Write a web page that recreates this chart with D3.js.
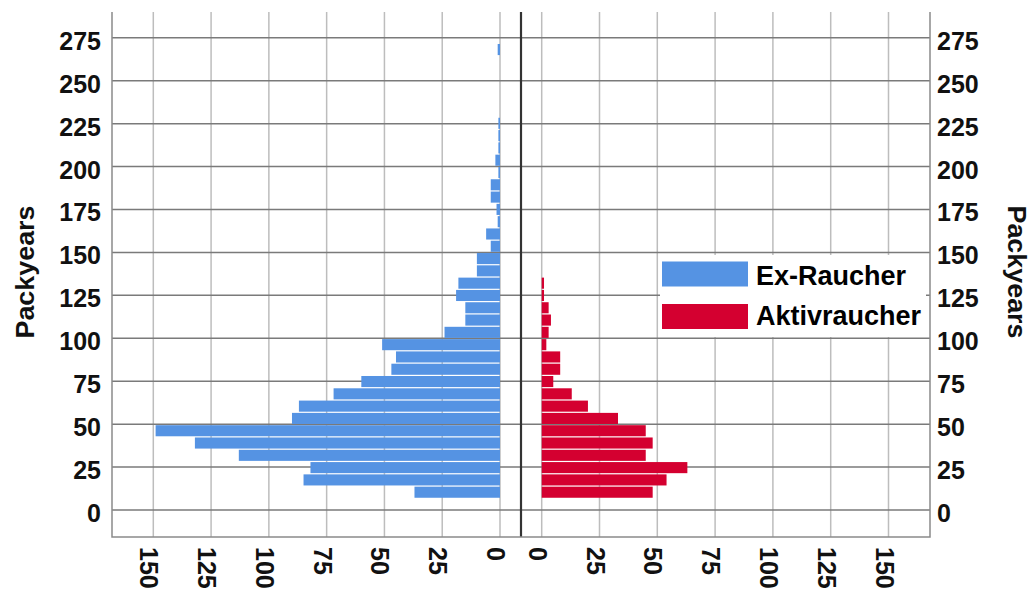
<!DOCTYPE html>
<html>
<head>
<meta charset="utf-8">
<script src="https://cdn.jsdelivr.net/npm/d3@7/dist/d3.min.js"></script>
<style>
  body { margin: 0; background: #fff; }
  text { font-family: "Liberation Sans", Arial, sans-serif; }
</style>
</head>
<body>
<svg id="chart" width="1032" height="591"></svg>
<script>
// counts per packyear bin, lowest bin first
const exRaucher = [37, 85, 82, 113, 132, 149, 90, 87, 72, 60, 47, 45, 51, 24, 15, 15, 19, 18, 10, 10,
                   4, 6, 1, 1.5, 4, 4, 0.7, 2, 0.7, 0.7, 0.7, 0, 0, 0, 0, 0, 1];
const aktivraucher = [48, 54, 63, 45, 48, 45, 33, 20, 13, 5, 8, 8, 2, 3, 4, 3, 1, 1];
const binStart = 6.8;   // lower edge of first bin (packyears)
const binWidth = 7.16;
const yTicks = [0, 25, 50, 75, 100, 125, 150, 175, 200, 225, 250, 275];
const xTicks = [0, 25, 50, 75, 100, 125, 150];
const seriesNames = ['Ex-Raucher', 'Aktivraucher'];
const seriesColors = ['#5593e3', '#d40030'];

const svg = d3.select('#chart');

const plot = {left: 112, right: 930, top: 12, bottom: 537, center: 521};

const y = d3.scaleLinear().domain([-15.7, 290]).range([plot.bottom, plot.top]);
const xL = d3.scaleLinear().domain([0, 150]).range([500, 153.3]);
const xR = d3.scaleLinear().domain([0, 150]).range([541.7, 888.5]);

// vertical grid
const vg = svg.append('g');
[xL, xR].forEach(sc => {
  vg.selectAll(null).data(xTicks).enter().append('line')
    .attr('x1', d => sc(d)).attr('x2', d => sc(d))
    .attr('y1', plot.top).attr('y2', plot.bottom)
    .attr('stroke', '#bdbdbd').attr('stroke-width', 1.5);
});

// horizontal grid
svg.append('g').selectAll('line').data(yTicks).enter().append('line')
  .attr('x1', plot.left).attr('x2', plot.right)
  .attr('y1', d => y(d)).attr('y2', d => y(d))
  .attr('stroke', '#7a7a7a').attr('stroke-width', 1.5);

// bars
const binLo = i => binStart + i * binWidth;
const barH = y(binLo(0)) - y(binLo(1)) - 1.2;

const gBars = svg.append('g');
gBars.selectAll('rect.ex').data(exRaucher).enter().append('rect')
  .attr('class', 'ex')
  .attr('x', d => xL(d)).attr('width', d => xL(0) - xL(d))
  .attr('y', (d, i) => y(binLo(i + 1)) + 0.6).attr('height', barH)
  .attr('fill', seriesColors[0]);
gBars.selectAll('rect.akt').data(aktivraucher).enter().append('rect')
  .attr('class', 'akt')
  .attr('x', xR(0)).attr('width', d => xR(d) - xR(0))
  .attr('y', (d, i) => y(binLo(i + 1)) + 0.6).attr('height', barH)
  .attr('fill', seriesColors[1]);

// center line
svg.append('line')
  .attr('x1', plot.center).attr('x2', plot.center)
  .attr('y1', plot.top).attr('y2', plot.bottom)
  .attr('stroke', '#333').attr('stroke-width', 2.2);

// frame
svg.append('path')
  .attr('d', `M${plot.left},${plot.top}V${plot.bottom}H${plot.right}V${plot.top}`)
  .attr('fill', 'none').attr('stroke', '#8a8a8a').attr('stroke-width', 1.5);

// y tick labels both sides
svg.append('g').selectAll('text').data(yTicks).enter().append('text')
  .attr('x', 101).attr('y', d => y(d) + 3)
  .attr('text-anchor', 'end').attr('dominant-baseline', 'central')
  .attr('font-size', 25).attr('font-weight', 'bold').attr('fill', '#111')
  .text(d => d);
svg.append('g').selectAll('text').data(yTicks).enter().append('text')
  .attr('x', 937).attr('y', d => y(d) + 3)
  .attr('text-anchor', 'start').attr('dominant-baseline', 'central')
  .attr('font-size', 25).attr('font-weight', 'bold').attr('fill', '#111')
  .text(d => d);

// x tick labels, rotated
[xL, xR].forEach(sc => {
  svg.append('g').selectAll('text').data(xTicks).enter().append('text')
    .attr('transform', d => `translate(${sc(d) - 4},547) rotate(90)`)
    .attr('text-anchor', 'start').attr('dominant-baseline', 'central')
    .attr('font-size', 25).attr('font-weight', 'bold').attr('fill', '#111')
    .text(d => d);
});

// axis titles
svg.append('text')
  .attr('transform', 'translate(25,272) rotate(-90)')
  .attr('text-anchor', 'middle').attr('dominant-baseline', 'central')
  .attr('font-size', 25).attr('font-weight', 'bold').attr('fill', '#111')
  .attr('textLength', 133).attr('lengthAdjust', 'spacingAndGlyphs')
  .text('Packyears');
svg.append('text')
  .attr('transform', 'translate(1017,272) rotate(90)')
  .attr('text-anchor', 'middle').attr('dominant-baseline', 'central')
  .attr('font-size', 25).attr('font-weight', 'bold').attr('fill', '#111')
  .attr('textLength', 133).attr('lengthAdjust', 'spacingAndGlyphs')
  .text('Packyears');

// legend
const lg = svg.append('g');
lg.append('rect').attr('x', 660).attr('y', 255).attr('width', 266).attr('height', 82).attr('fill', '#fff');
seriesNames.forEach((name, i) => {
  lg.append('rect')
    .attr('x', 662).attr('y', 261.5 + i * 42.5).attr('width', 86).attr('height', 25)
    .attr('fill', seriesColors[i]);
  lg.append('text')
    .attr('x', 756).attr('y', 285 + i * 40)
    .attr('font-size', 27).attr('font-weight', 'bold').attr('fill', '#000')
    .text(name);
});
</script>
</body>
</html>
